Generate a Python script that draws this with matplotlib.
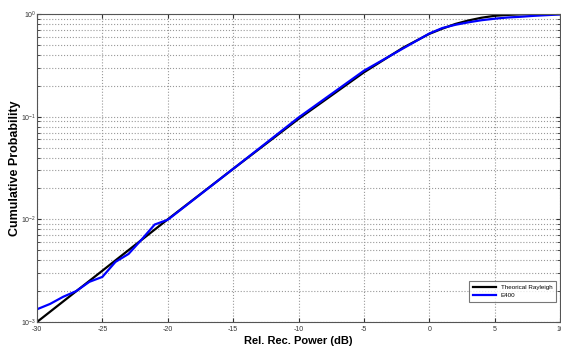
import matplotlib
matplotlib.use("Agg")
import matplotlib.pyplot as plt
from matplotlib.ticker import LogLocator, NullFormatter

# Data
x_theory = [-30, -25, -20, -15, -10, -5, -2, 0, 1, 2, 3, 4, 5, 6, 7, 8, 10]
y_theory = [1.0e-3, 3.16e-3, 1.0e-2, 3.1e-2, 9.5e-2, 0.27, 0.47, 0.64, 0.72,
            0.80, 0.865, 0.92, 0.96, 0.98, 0.993, 0.998, 1.0]

x_e400 = [-30, -29, -28, -27, -26, -25, -24, -23, -22, -21, -20, -15, -10,
          -5, 0, 1, 2, 3, 4, 5, 6, 7, 8, 9, 10]
y_e400 = [1.33e-3, 1.5e-3, 1.76e-3, 2.0e-3, 2.46e-3, 2.75e-3, 3.85e-3, 4.6e-3,
          6.35e-3, 8.9e-3, 9.9e-3, 3.1e-2, 9.8e-2, 0.28, 0.645, 0.73, 0.785,
          0.83, 0.87, 0.90, 0.925, 0.94, 0.96, 0.975, 0.99]

x_ticks = [-30, -25, -20, -15, -10, -5, 0, 5, 10]
legend_labels = ["Theorical Rayleigh", "E400"]

plt.rcParams['font.family'] = ['Liberation Sans', 'DejaVu Sans']
plt.rcParams['axes.unicode_minus'] = False

fig = plt.figure(figsize=(5.61, 3.49), dpi=100)
ax = fig.add_axes([37/561, 1 - 322/349, (560 - 37)/561, (322 - 14)/349])

ax.plot(x_theory, y_theory, color='black', lw=1.6, label=legend_labels[0])
ax.plot(x_e400, y_e400, color='#0000ff', lw=1.6, label=legend_labels[1])

ax.set_yscale('log')
ax.set_xlim(-30, 10)
ax.set_ylim(1e-3, 1)
ax.set_xticks(x_ticks)
ax.yaxis.set_major_locator(LogLocator(base=10, numticks=10))
ax.yaxis.set_minor_locator(LogLocator(base=10, subs=range(2, 10), numticks=100))
ax.yaxis.set_minor_formatter(NullFormatter())

ax.grid(True, which='major', linestyle=':', color='#999999', lw=0.8)
ax.grid(True, which='minor', axis='y', linestyle=':', color='#999999', lw=0.8)

ax.tick_params(which='both', direction='in', labelsize=5, colors='#333333',
               top=True, right=True)
ax.tick_params(which='minor', length=2)
ax.tick_params(which='major', length=3)
ax.tick_params(axis='y', which='major', pad=0.5)
ax.tick_params(axis='x', which='major', pad=3)
for s in ax.spines.values():
    s.set_color('#555555')
    s.set_linewidth(0.8)

ax.set_xlabel('Rel. Rec. Power (dB)', fontsize=8, fontweight='bold', labelpad=2)
ax.set_ylabel('Cumulative Probability', fontsize=9, fontweight='bold')
ax.yaxis.set_label_coords((21.5 - 37) / 523, 0.5)

leg = ax.legend(loc='lower right', fontsize=4.5, frameon=True, fancybox=False,
                edgecolor='#555555', handlelength=3.6, borderaxespad=0,
                bbox_to_anchor=((556 - 37) / 523, (322 - 302) / 308),
                borderpad=0.6, labelspacing=0.5)
leg.get_frame().set_linewidth(0.8)

fig.savefig('out.png', dpi=100)
